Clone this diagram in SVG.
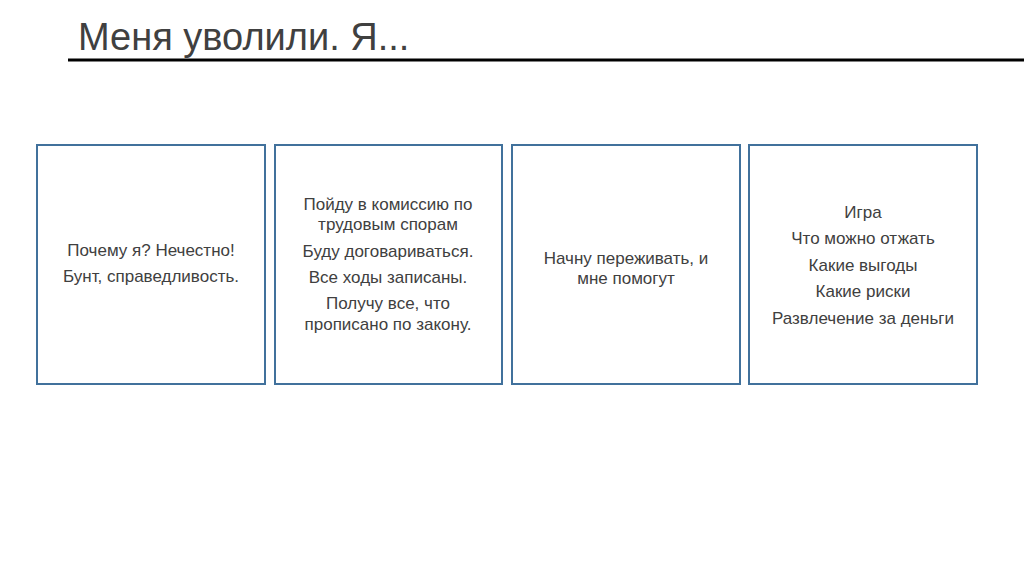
<svg xmlns="http://www.w3.org/2000/svg" width="1024" height="574" viewBox="0 0 1024 574">
<style>
.b{fill:#fff;stroke:#41719c;stroke-width:2}
.t{font-family:"Liberation Sans","Open Sans",sans-serif;font-size:17px;fill:#404040;text-anchor:middle}
</style>
<rect width="1024" height="574" fill="#fff"/>
<text x="78" y="50" font-family="Liberation Sans, Open Sans, sans-serif" font-size="38" fill="#404040">Меня уволили. Я...</text>
<line x1="68" y1="60" x2="1024" y2="60" stroke="#000" stroke-width="3"/>
<g id="n1"><rect class="b" x="37" y="145" width="228" height="239"/>
<text class="t" x="151" y="256">Почему я? Нечестно!</text><text class="t" x="151" y="282">Бунт, справедливость.</text></g>
<g id="n2"><rect class="b" x="275" y="145" width="227" height="239"/>
<text class="t" x="388" y="210">Пойду в комиссию по</text><text class="t" x="388" y="230">трудовым спорам</text>
<text class="t" x="388" y="257">Буду договариваться.</text><text class="t" x="388" y="283">Все ходы записаны.</text>
<text class="t" x="388" y="309">Получу все, что</text><text class="t" x="388" y="330">прописано по закону.</text></g>
<g id="n3"><rect class="b" x="512" y="145" width="228" height="239"/>
<text class="t" x="626" y="264">Начну переживать, и</text><text class="t" x="626" y="284">мне помогут</text></g>
<g id="n4"><rect class="b" x="749" y="145" width="228" height="239"/>
<text class="t" x="863" y="218">Игра</text><text class="t" x="863" y="244">Что можно отжать</text>
<text class="t" x="863" y="271">Какие выгоды</text><text class="t" x="863" y="297">Какие риски</text>
<text class="t" x="863" y="324">Развлечение за деньги</text></g>
<g id="connectors"/>
</svg>
